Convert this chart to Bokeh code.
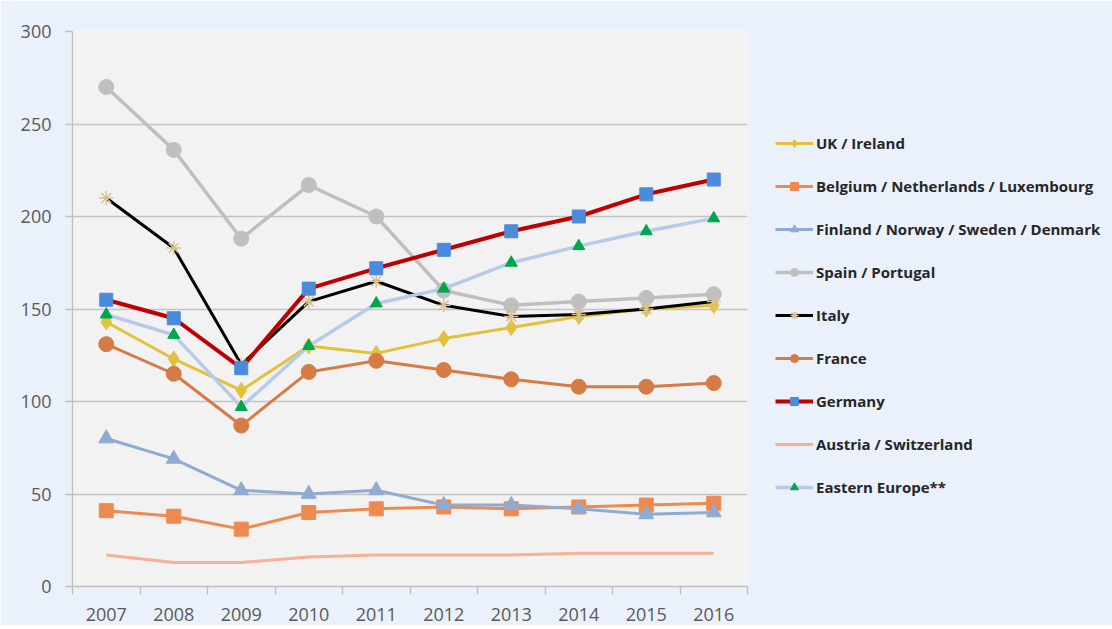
from bokeh.plotting import figure
from bokeh.models import Range1d, FixedTicker, Legend, LegendItem
from bokeh.embed import file_html
from bokeh.resources import INLINE

years = ["2007", "2008", "2009", "2010", "2011", "2012", "2013", "2014", "2015", "2016"]

uk_ireland = [143, 123, 106, 130, 126, 134, 140, 146, 150, 152]
benelux = [41, 38, 31, 40, 42, 43, 42, 43, 44, 45]
nordics = [80, 69, 52, 50, 52, 44, 44, 42, 39, 40]
spain_portugal = [270, 236, 188, 217, 200, 160, 152, 154, 156, 158]
italy = [210, 183, 120, 154, 165, 152, 146, 147, 150, 154]
france = [131, 115, 87, 116, 122, 117, 112, 108, 108, 110]
germany = [155, 145, 118, 161, 172, 182, 192, 200, 212, 220]
austria_swiss = [17, 13, 13, 16, 17, 17, 17, 18, 18, 18]
eastern_europe = [147, 136, 97, 130, 153, 161, 175, 184, 192, 199]

y_ticks = [0, 50, 100, 150, 200, 250, 300]

xc = [i + 0.5 for i in range(len(years))]
bounds = list(range(len(years) + 1))

FONT = "Open Sans"

p = figure(frame_width=675, frame_height=555, output_backend="svg", toolbar_location=None,
           x_range=Range1d(0, len(years)), y_range=Range1d(0, 300),
           min_border_left=72, min_border_right=365, min_border_top=31, min_border_bottom=39)
p.background_fill_color = "#F2F2F2"
p.border_fill_color = "#EBF1FA"
p.outline_line_color = None

p.xgrid.visible = False
p.ygrid.grid_line_color = "#C4C4C4"
p.ygrid.grid_line_width = 1.3
p.ygrid.ticker = FixedTicker(ticks=y_ticks)

p.xaxis.ticker = FixedTicker(ticks=xc, minor_ticks=bounds)
p.xaxis.major_label_overrides = {x: y for x, y in zip(xc, years)}
p.xaxis.major_tick_out = 0
p.xaxis.major_tick_in = 0
p.xaxis.minor_tick_out = 8
p.xaxis.minor_tick_in = 0
p.xaxis.minor_tick_line_color = "#BFBFBF"
p.xaxis.minor_tick_line_width = 1.3
p.xaxis.major_label_standoff = 13

p.yaxis.ticker = FixedTicker(ticks=y_ticks)
p.yaxis.major_tick_out = 7
p.yaxis.major_tick_in = 0
p.yaxis.minor_tick_out = 0
p.yaxis.minor_tick_in = 0
p.yaxis.major_label_standoff = 14

for ax in (p.xaxis[0], p.yaxis[0]):
    ax.axis_line_color = "#BFBFBF"
    ax.axis_line_width = 1.3
    ax.major_tick_line_color = "#BFBFBF"
    ax.major_tick_line_width = 1.3
    ax.major_label_text_font = FONT
    ax.major_label_text_font_size = "18px"
    ax.major_label_text_color = "#595959"

series = [
    ("UK / Ireland", uk_ireland, "#E2C13C", 3, "diamond", "#E2C13C", "#E2C13C", 16),
    ("Belgium / Netherlands / Luxembourg", benelux, "#EE8A50", 3, "square", "#EE8A50", "#EE8A50", 14),
    ("Finland / Norway / Sweden / Denmark", nordics, "#8FAAD3", 3, "triangle", "#8FAAD3", "#8FAAD3", 15),
    ("Spain / Portugal", spain_portugal, "#BFBFBF", 3.5, "circle", "#BFBFBF", "#BFBFBF", 15),
    ("Italy", italy, "#000000", 3, "asterisk", None, "#D8C38E", 14),
    ("France", france, "#D67B45", 3, "circle", "#D67B45", "#D67B45", 15),
    ("Germany", germany, "#C00000", 4, "square", "#4A8BDB", "#4A8BDB", 13),
    ("Austria / Switzerland", austria_swiss, "#F7B094", 3, None, None, None, 0),
    ("Eastern Europe**", eastern_europe, "#B7CAE8", 3.5, "triangle", "#00A64F", "#00A64F", 12),
]

items = []
for name, vals, lc, lw, marker, fc, mlc, size in series:
    rs = [p.line(xc, vals, line_color=lc, line_width=lw)]
    if marker:
        rs.append(p.scatter(xc, vals, marker=marker, size=size, fill_color=fc,
                            line_color=mlc, line_width=1.5 if marker == "asterisk" else 1))
    items.append(LegendItem(label=name, renderers=rs))

legend = Legend(items=items, location=(28, 89), orientation="vertical",
                glyph_width=38, glyph_height=20, label_height=20, spacing=23,
                label_standoff=3, padding=0, margin=0,
                border_line_color=None, background_fill_alpha=0,
                label_text_font=FONT, label_text_font_size="15px",
                label_text_font_style="bold", label_text_color="#262626",
                label_text_baseline="middle")
p.add_layout(legend, "right")

open("out.html", "w").write(file_html(p, INLINE))
